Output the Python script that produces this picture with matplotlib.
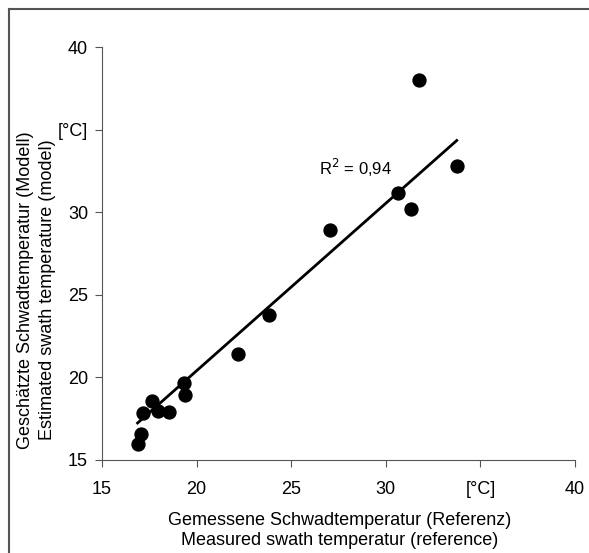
import matplotlib
matplotlib.use("Agg")
import matplotlib.pyplot as plt
from matplotlib.lines import Line2D

plt.rcParams['font.family'] = ['Liberation Sans', 'DejaVu Sans']

measured = [31.77, 33.75, 30.63, 31.31, 27.04, 23.81, 22.18, 19.35, 19.40,
            17.64, 17.18, 17.94, 18.55, 17.04, 16.88]
estimated = [38.0, 32.78, 31.18, 30.21, 28.95, 23.76, 21.41, 19.66, 18.95,
             18.57, 17.86, 17.99, 17.93, 16.56, 15.94]
fit_x = [16.88, 33.75]
fit_y = [17.24, 34.34]
ticks = [15, 20, 25, 30, 35, 40]
tick_labels = ['15', '20', '25', '30', '[°C]', '40']
r2_text = 'R$^2$ = 0,94'

fig = plt.figure(figsize=(5.89, 5.53), dpi=100)
ax = fig.add_axes([102/589, 1-460/553, (575-102)/589, (460-47)/553])

ax.plot(measured, estimated, 'o', color='black', markersize=9.3, zorder=3)
ax.plot(fit_x, fit_y, '-', color='black', linewidth=2, zorder=2)

ax.set_xlim(15, 40)
ax.set_ylim(15, 40)
ax.set_xticks(ticks)
ax.set_yticks(ticks)
ax.set_xticklabels(tick_labels)
ax.set_yticklabels(tick_labels)
ax.tick_params(axis='both', direction='out', length=5, width=0.8,
               color='#555555', labelsize=13)
ax.tick_params(axis='x', pad=10)
ax.tick_params(axis='y', pad=5)
for s in ['top', 'right']:
    ax.spines[s].set_visible(False)
for s in ['left', 'bottom']:
    ax.spines[s].set_color('#555555')
    ax.spines[s].set_linewidth(0.8)

fig.text(340/589, 1-530.5/553,
         'Gemessene Schwadtemperatur (Referenz)\nMeasured swath temperatur (reference)',
         fontsize=13, ha='center', va='center', linespacing=1.22)
fig.text(36.5/589, 1-290/553,
         'Geschätzte Schwadtemperatur (Modell)\nEstimated swath temperature (model)',
         fontsize=13, ha='center', va='center', rotation=90, linespacing=1.4)

ax.text(26.45, 32.7, r2_text, fontsize=12, va='center', ha='left')

# figure border (top and left visible)
fig.add_artist(Line2D([8.5/589, 8.5/589], [0, 1-8.5/553], transform=fig.transFigure,
                      color='#555555', linewidth=1.5))
fig.add_artist(Line2D([8.5/589, 1], [1-8.5/553, 1-8.5/553], transform=fig.transFigure,
                      color='#555555', linewidth=1.5))

fig.savefig('out.png', dpi=100)
